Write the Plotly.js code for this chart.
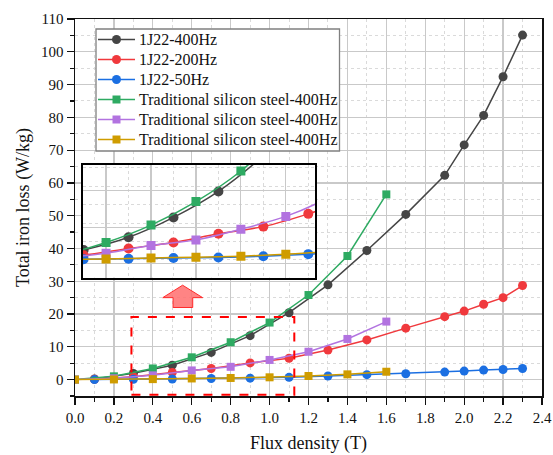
<!DOCTYPE html>
<html>
<head>
<meta charset="utf-8">
<script src="https://cdn.plot.ly/plotly-3.0.1.min.js"></script>
<style>html,body{margin:0;padding:0;background:#fff;}#chart{width:553px;height:455px;}</style>
</head>
<body>
<div id="chart"></div>
<script>
// Flux density (T)
const xCircle = [0.1, 0.3, 0.5, 0.7, 0.9, 1.1, 1.3, 1.5, 1.7, 1.9, 2.0, 2.1, 2.2, 2.3];
const xSquare = [0.0, 0.2, 0.4, 0.6, 0.8, 1.0, 1.2, 1.4, 1.6];

// Total iron loss (W/kg)
const j22_400 = [0.2, 1.9, 4.4, 8.3, 13.4, 20.4, 28.9, 39.4, 50.4, 62.3, 71.6, 80.6, 92.4, 105.1];
const j22_200 = [0.1, 0.9, 2.2, 3.4, 5.1, 6.5, 9.0, 12.1, 15.7, 19.2, 20.9, 23.0, 25.0, 28.7];
const j22_50  = [0.0, 0.1, 0.2, 0.35, 0.45, 0.7, 1.1, 1.5, 1.8, 2.3, 2.6, 2.9, 3.1, 3.4];
const si_a = [0.0, 1.0, 3.4, 6.8, 11.4, 17.4, 25.8, 37.7, 56.5];
const si_b = [0.0, 0.4, 1.3, 2.8, 3.9, 6.0, 8.5, 12.4, 17.7];
const si_c = [0.0, 0.05, 0.15, 0.35, 0.5, 0.7, 1.1, 1.6, 2.4];

const names = ['1J22-400Hz', '1J22-200Hz', '1J22-50Hz',
  'Traditional silicon steel-400Hz', 'Traditional silicon steel-400Hz', 'Traditional silicon steel-400Hz'];
const colors = ['#454545', '#f0393d', '#1b6fe2', '#2eaa62', '#b273e0', '#cf9c00'];

const series = [
  {x: xCircle, y: j22_400, sym: 'circle'},
  {x: xCircle, y: j22_200, sym: 'circle'},
  {x: xCircle, y: j22_50, sym: 'circle'},
  {x: xSquare, y: si_a, sym: 'square'},
  {x: xSquare, y: si_b, sym: 'square'},
  {x: xSquare, y: si_c, sym: 'square'}
];

const traces = [];
series.forEach((s, i) => {
  traces.push({
    x: s.x, y: s.y, name: names[i], type: 'scatter', mode: 'lines+markers',
    xaxis: 'x', yaxis: 'y', showlegend: false,
    line: {color: colors[i], width: 1.5},
    marker: {symbol: s.sym, size: s.sym === 'circle' ? 9 : 8, color: colors[i]}
  });
});
series.forEach((s, i) => {
  traces.push({
    x: s.x, y: s.y, name: names[i], type: 'scatter', mode: 'lines+markers',
    xaxis: 'x2', yaxis: 'y2', showlegend: false, cliponaxis: true,
    line: {color: colors[i], width: 1.5, shape: 'spline', smoothing: 0.8},
    marker: {symbol: s.sym, size: s.sym === 'circle' ? 10 : 9, color: colors[i]}
  });
});

const serif = 'Liberation Serif';
const gridMajor = '#c9c9c9';
const gridMinor = '#dadada';

// plot area in pixels (for legend placement in paper coordinates)
const PL = 75, PR = 542, PT = 19, PB = 396;
const px2x = px => (px - PL) / (PR - PL);
const py2y = py => (PB - py) / (PB - PT);

const shapes = [
  {type: 'rect', xref: 'x', yref: 'y', x0: 0.29, x1: 1.127, y0: -4.6, y1: 19.1,
   line: {color: '#ff0000', width: 2, dash: 'dash'}, fillcolor: 'rgba(0,0,0,0)'},
  {type: 'path', xref: 'x', yref: 'y',
   path: 'M 0.504 22.0 L 0.504 25.0 L 0.451 25.0 L 0.553 28.8 L 0.656 25.0 L 0.605 25.0 L 0.605 22.0 Z',
   line: {color: '#ff2a2a', width: 1}, fillcolor: 'rgba(255,110,110,0.85)'},
  // legend box
  {type: 'rect', xref: 'paper', yref: 'paper', x0: px2x(96), x1: px2x(339.5), y0: py2y(151), y1: py2y(29),
   line: {color: '#808080', width: 1.3}, fillcolor: '#ffffff', layer: 'above'}
];
const annotations = [];
const rowY = [39.5, 59.5, 79.5, 99.5, 119.5, 139.5];
names.forEach((n, i) => {
  const yy = py2y(rowY[i]);
  shapes.push({type: 'line', xref: 'paper', yref: 'paper', x0: px2x(98), x1: px2x(135), y0: yy, y1: yy,
    line: {color: colors[i], width: 1.5}, layer: 'above'});
  const half = series[i].sym === 'circle' ? 4.5 : 4;
  shapes.push({type: series[i].sym === 'circle' ? 'circle' : 'rect', xref: 'paper', yref: 'paper',
    xsizemode: 'pixel', ysizemode: 'pixel', xanchor: px2x(116.5), yanchor: yy,
    x0: -half, x1: half, y0: -half, y1: half,
    line: {color: colors[i], width: 0}, fillcolor: colors[i], layer: 'above'});
  annotations.push({xref: 'paper', yref: 'paper', x: px2x(137), y: yy, xanchor: 'left', yanchor: 'middle',
    text: n, showarrow: false, font: {family: serif, size: 16, color: '#111'}});
});

const layout = {
  width: 553, height: 455,
  margin: {l: PL, r: 553 - PR, t: PT, b: 455 - PB},
  paper_bgcolor: '#fff', plot_bgcolor: '#fff',
  font: {family: serif, color: '#111', size: 14},
  showlegend: false,
  xaxis: {
    domain: [0, 1], anchor: 'y',
    range: [0, 2.4], tick0: 0, dtick: 0.2, tickformat: '.1f',
    ticks: 'outside', ticklen: 7, tickwidth: 1.2, tickcolor: '#111',
    showline: true, linecolor: '#111', linewidth: 1.5, mirror: true,
    showgrid: true, gridcolor: gridMajor, gridwidth: 1.2, zeroline: false,
    tickfont: {family: serif, size: 15, color: '#111'},
    minor: {dtick: 0.1, ticks: 'outside', ticklen: 4, tickcolor: '#111',
            showgrid: true, gridcolor: gridMinor, griddash: 'dot', gridwidth: 1},
    title: {text: 'Flux density (T)', font: {family: serif, size: 18, color: '#111'}, standoff: 12}
  },
  yaxis: {
    domain: [0, 1], anchor: 'x',
    range: [-5, 110], tick0: 0, dtick: 10,
    ticks: 'outside', ticklen: 7, tickwidth: 1.2, tickcolor: '#111',
    showline: true, linecolor: '#111', linewidth: 1.5, mirror: true,
    showgrid: true, gridcolor: gridMajor, gridwidth: 1.2, zeroline: false,
    tickfont: {family: serif, size: 15, color: '#111'},
    minor: {dtick: 5, ticks: 'outside', ticklen: 4, tickcolor: '#111',
            showgrid: true, gridcolor: gridMinor, griddash: 'dot', gridwidth: 1},
    title: {text: 'Total iron loss (W/kg)', font: {family: serif, size: 18, color: '#111'}, standoff: 6}
  },
  xaxis2: {
    domain: [0.0165, 0.514], anchor: 'y2',
    range: [0.296, 1.33], tick0: 0, dtick: 0.2,
    showticklabels: false, ticks: '',
    showline: true, linecolor: '#000', linewidth: 2, mirror: true,
    showgrid: true, gridcolor: gridMajor, gridwidth: 1.2, zeroline: false,
    minor: {dtick: 0.1, showgrid: true, gridcolor: gridMinor, griddash: 'dot', gridwidth: 1}
  },
  yaxis2: {
    domain: [0.314, 0.613], anchor: 'x2',
    range: [-3.5, 18.6], tick0: -0.8, dtick: 7.2,
    showticklabels: false, ticks: '',
    showline: true, linecolor: '#000', linewidth: 2, mirror: true,
    showgrid: true, gridcolor: gridMajor, gridwidth: 1.2, zeroline: false,
    minor: {dtick: 3.6, showgrid: true, gridcolor: gridMinor, griddash: 'dot', gridwidth: 1}
  },
  shapes: shapes,
  annotations: annotations
};

Plotly.newPlot('chart', traces, layout, {displayModeBar: false, staticPlot: true});
</script>
</body>
</html>
